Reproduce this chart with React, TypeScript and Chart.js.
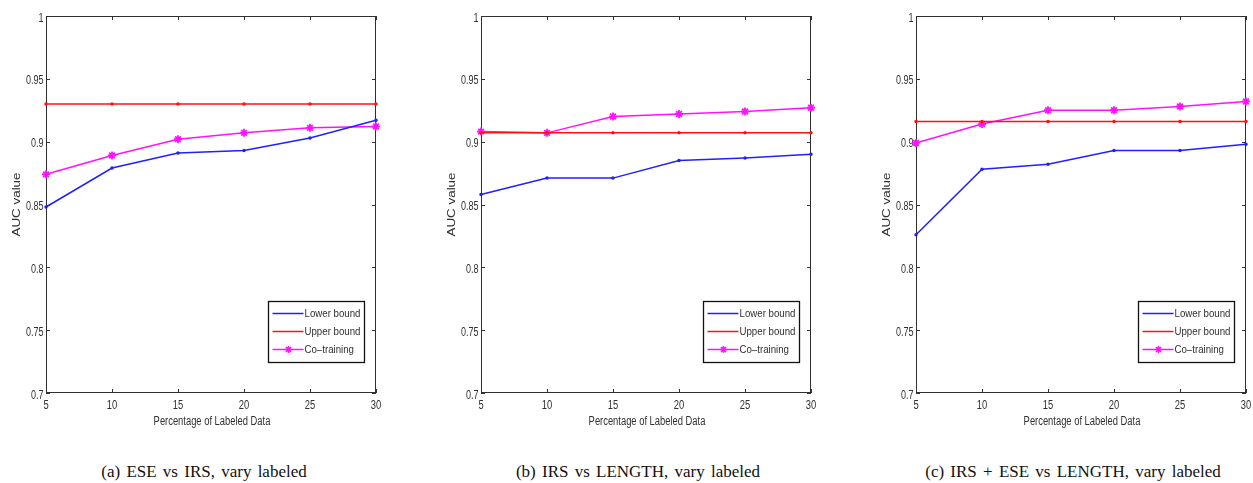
import { useEffect, useRef } from "react";
import { Chart, registerables } from "chart.js";
Chart.register(...registerables);

// ---------- data ----------
const xValues = [5, 10, 15, 20, 25, 30];
const legendLabels = ["Lower bound", "Upper bound", "Co\u2013training"];
const xTitle = "Percentage of Labeled Data";
const yTitle = "AUC value";

const lowerA = [0.848, 0.879, 0.891, 0.893, 0.903, 0.917];
const upperA = [0.93, 0.93, 0.93, 0.93, 0.93, 0.93];
const coA = [0.874, 0.889, 0.902, 0.907, 0.911, 0.912];

const lowerB = [0.858, 0.871, 0.871, 0.885, 0.887, 0.89];
const upperB = [0.907, 0.907, 0.907, 0.907, 0.907, 0.907];
const coB = [0.908, 0.907, 0.92, 0.922, 0.924, 0.927];

const lowerC = [0.826, 0.878, 0.882, 0.893, 0.893, 0.898];
const upperC = [0.916, 0.916, 0.916, 0.916, 0.916, 0.916];
const coC = [0.899, 0.914, 0.925, 0.925, 0.928, 0.932];

const captions = [
  "(a) ESE vs IRS, vary labeled",
  "(b) IRS vs LENGTH, vary labeled",
  "(c) IRS + ESE vs LENGTH, vary labeled",
];

// ---------- style ----------
const BLUE = "#2020ff";
const RED = "#ff1010";
const MAGENTA = "#ff10ff";
const TEXT = "#303030";
const FRAME = "#303030";
const SANS = "'Liberation Sans', Arial, Helvetica, sans-serif";
const SQUEEZE = 0.75;

function squeezedText(ctx: any, text: string, x: number, y: number, sx: number) {
  ctx.save();
  ctx.translate(x, y);
  ctx.scale(sx, 1);
  ctx.fillText(text, 0, 0);
  ctx.restore();
}

const fmtTick = (v: number) => parseFloat(Number(v).toFixed(2)).toString();

const framePlugin = {
  id: "matlabFrame",
  beforeDatasetsDraw(chart: any) {
    const { ctx, chartArea } = chart;
    const { left, right, top, bottom } = chartArea;
    const xs = chart.scales.x;
    const ys = chart.scales.y;
    ctx.save();
    ctx.strokeStyle = FRAME;
    ctx.lineWidth = 1;
    ctx.strokeRect(left + 0.5, top + 0.5, right - left - 1, bottom - top - 1);
    const tl = 4;
    ctx.beginPath();
    xs.ticks.forEach((t: any) => {
      const px = Math.round(xs.getPixelForValue(t.value)) + 0.5;
      ctx.moveTo(px, bottom);
      ctx.lineTo(px, bottom - tl);
      ctx.moveTo(px, top);
      ctx.lineTo(px, top + tl);
    });
    ys.ticks.forEach((t: any) => {
      const py = Math.round(ys.getPixelForValue(t.value)) + 0.5;
      ctx.moveTo(left, py);
      ctx.lineTo(left + tl, py);
      ctx.moveTo(right, py);
      ctx.lineTo(right - tl, py);
    });
    ctx.stroke();

    // tick labels (MATLAB-style condensed text)
    ctx.fillStyle = TEXT;
    ctx.font = `12.5px ${SANS}`;
    ctx.textBaseline = "alphabetic";
    ctx.textAlign = "center";
    xs.ticks.forEach((t: any) => {
      const px = xs.getPixelForValue(t.value);
      squeezedText(ctx, fmtTick(t.value), px, bottom + 16, SQUEEZE);
    });
    ctx.textAlign = "right";
    ctx.font = `12px ${SANS}`;
    ys.ticks.forEach((t: any) => {
      const py = ys.getPixelForValue(t.value);
      squeezedText(ctx, fmtTick(t.value), left - 2.5, py + 5.5, SQUEEZE);
    });

    // axis titles
    ctx.font = `12.5px ${SANS}`;
    ctx.textAlign = "center";
    squeezedText(ctx, xTitle, (left + right) / 2 + 1, bottom + 32, SQUEEZE);

    ctx.save();
    ctx.font = `13.4px ${SANS}`;
    ctx.translate(left - 26, (top + bottom) / 2);
    ctx.rotate(-Math.PI / 2);
    ctx.scale(1, SQUEEZE);
    ctx.textAlign = "center";
    ctx.textBaseline = "alphabetic";
    ctx.fillText(yTitle, 0, 0);
    ctx.restore();

    ctx.restore();
  },
  afterDatasetsDraw(chart: any) {
    const { ctx, chartArea } = chart;
    const w = 96;
    const h = 61;
    const bx = Math.round(chartArea.right - 12 - w) + 0.5;
    const by = Math.round(chartArea.bottom - 31 - h) + 0.5;
    ctx.save();
    ctx.fillStyle = "#ffffff";
    ctx.fillRect(bx, by, w, h);
    ctx.strokeStyle = "#111";
    ctx.lineWidth = 1.3;
    ctx.strokeRect(bx, by, w, h);
    const colors = [BLUE, RED, MAGENTA];
    ctx.font = `11px ${SANS}`;
    ctx.textBaseline = "middle";
    ctx.textAlign = "left";
    legendLabels.forEach((lab, i) => {
      const ry = by + 12 + i * 18;
      ctx.strokeStyle = colors[i];
      ctx.lineWidth = 1.5;
      ctx.beginPath();
      ctx.moveTo(bx + 4, ry);
      ctx.lineTo(bx + 35, ry);
      ctx.stroke();
      if (i === 2) {
        ctx.lineWidth = 1.6;
        const cx = bx + 20;
        const r = 3.5;
        ctx.beginPath();
        for (let k = 0; k < 4; k++) {
          const a = (k * Math.PI) / 4;
          ctx.moveTo(cx + r * Math.sin(a), ry - r * Math.cos(a));
          ctx.lineTo(cx - r * Math.sin(a), ry + r * Math.cos(a));
        }
        ctx.stroke();
      }
      ctx.fillStyle = TEXT;
      squeezedText(ctx, lab, bx + 36, ry + 0.5, 0.88);
    });
    ctx.restore();
  },
};

function Panel({ left, lower, upper, co }: { left: number; lower: number[]; upper: number[]; co: number[] }) {
  const ref = useRef<HTMLCanvasElement>(null);
  useEffect(() => {
    const toPts = (arr: number[]) => xValues.map((x, i) => ({ x, y: arr[i] }));
    const chart = new Chart(ref.current as HTMLCanvasElement, {
      type: "line",
      data: {
        datasets: [
          {
            label: legendLabels[0],
            data: toPts(lower),
            borderColor: BLUE,
            backgroundColor: BLUE,
            borderWidth: 1.5,
            pointRadius: 1,
            pointHoverRadius: 0,
            clip: false,
          },
          {
            label: legendLabels[1],
            data: toPts(upper),
            borderColor: RED,
            backgroundColor: RED,
            borderWidth: 1.5,
            pointRadius: 1,
            pointHoverRadius: 0,
            clip: false,
          },
          {
            label: legendLabels[2],
            data: toPts(co),
            borderColor: MAGENTA,
            backgroundColor: MAGENTA,
            borderWidth: 1.5,
            pointStyle: "star",
            pointRadius: 4,
            pointBorderWidth: 1.8,
            pointHoverRadius: 0,
            clip: false,
          },
        ],
      } as any,
      options: {
        responsive: false,
        animation: false,
        events: [],
        layout: { padding: { left: 0, top: 16, right: 44, bottom: 7 } },
        plugins: { legend: { display: false }, tooltip: { enabled: false } },
        elements: { line: { tension: 0 } },
        scales: {
          x: {
            type: "linear",
            min: 5,
            max: 30,
            ticks: { stepSize: 5, display: false, autoSkip: false },
            grid: { display: false },
            border: { display: false },
            afterFit: (s: any) => {
              s.height = 40;
            },
          },
          y: {
            type: "linear",
            min: 0.7,
            max: 1,
            ticks: { stepSize: 0.05, display: false },
            grid: { display: false },
            border: { display: false },
            afterFit: (s: any) => {
              s.width = 46;
            },
          },
        },
      } as any,
      plugins: [framePlugin],
    });
    return () => chart.destroy();
  }, []);
  return (
    <canvas
      ref={ref}
      width={420}
      height={440}
      style={{ position: "absolute", left, top: 0, width: 420, height: 440 }}
    />
  );
}

export default function App() {
  const lefts = [0, 435, 870];
  const capCenters = [204, 638, 1073];
  return (
    <div
      style={{
        position: "absolute",
        left: 0,
        top: 0,
        width: 1253,
        height: 483,
        overflow: "hidden",
        background: "#ffffff",
      }}
    >
      <Panel left={lefts[0]} lower={lowerA} upper={upperA} co={coA} />
      <Panel left={lefts[1]} lower={lowerB} upper={upperB} co={coB} />
      <Panel left={lefts[2]} lower={lowerC} upper={upperC} co={coC} />
      {captions.map((c, i) => (
        <div
          key={i}
          style={{
            position: "absolute",
            left: capCenters[i] - 200,
            width: 400,
            top: 462,
            textAlign: "center",
            fontFamily: "'Liberation Serif', 'Times New Roman', serif",
            fontSize: 17,
            lineHeight: "20px",
            color: "#111",
            wordSpacing: 2,
            whiteSpace: "nowrap",
          }}
        >
          {c}
        </div>
      ))}
    </div>
  );
}
